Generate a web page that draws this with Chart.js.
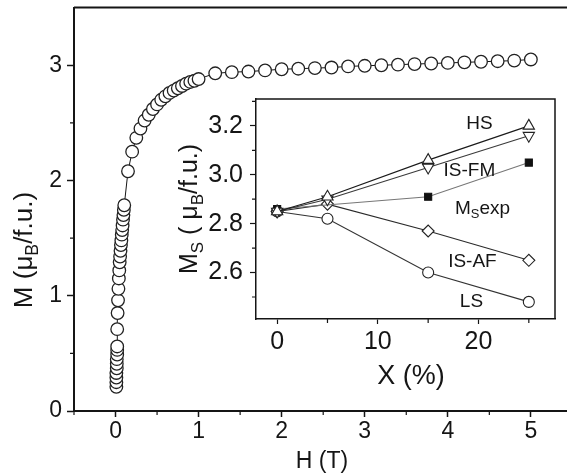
<!DOCTYPE html>
<html>
<head>
<meta charset="utf-8">
<script src="https://cdn.jsdelivr.net/npm/chart.js@4.4.0/dist/chart.umd.min.js"></script>
<style>
html, body { margin: 0; padding: 0; background: #fff; overflow: hidden; }
#wrap { position: relative; width: 567px; height: 476px; overflow: hidden; }
#mainChart { position: absolute; left: 0; top: 0; }
#insetChart { position: absolute; left: 160px; top: 90px; }
</style>
</head>
<body>
<div id="wrap">
  <canvas id="mainChart" width="580" height="476"></canvas>
  <canvas id="insetChart" width="405" height="310"></canvas>
</div>
<script>
// main curve, M(H)
const fieldT = [0.01, 0.01, 0.01, 0.01, 0.015, 0.015, 0.015, 0.02, 0.02, 0.02,
    0.02, 0.025, 0.03, 0.035, 0.04, 0.045, 0.05, 0.055, 0.06, 0.065, 0.07, 0.075, 0.08, 0.085, 0.09, 0.095, 0.10, 0.105,
    0.15, 0.20, 0.25, 0.30, 0.35, 0.40, 0.45, 0.50, 0.55, 0.60, 0.65, 0.70, 0.75, 0.80, 0.85, 0.90, 0.95, 1.00,
    1.2, 1.4, 1.6, 1.8, 2.0, 2.2, 2.4, 2.6, 2.8, 3.0, 3.2, 3.4, 3.6, 3.8, 4.0, 4.2, 4.4, 4.6, 4.8, 5.0];
const moment = [0.21, 0.25, 0.29, 0.33, 0.37, 0.41, 0.45, 0.49, 0.53, 0.56,
    0.71, 0.85, 0.96, 1.06, 1.15, 1.22, 1.29, 1.34, 1.39, 1.44, 1.48, 1.53, 1.57, 1.61, 1.66, 1.70, 1.745, 1.785,
    2.08, 2.25, 2.37, 2.45, 2.52, 2.57, 2.62, 2.66, 2.70, 2.73, 2.76, 2.78, 2.80, 2.82, 2.84, 2.855, 2.865, 2.88,
    2.93, 2.94, 2.945, 2.955, 2.965, 2.97, 2.975, 2.98, 2.99, 2.995, 3.0, 3.005, 3.01, 3.015, 3.02, 3.025, 3.03, 3.035, 3.04, 3.05];

// inset, Ms vs doping
const dopingX = [0, 5, 15, 25];
const msHS = [2.85, 2.91, 3.06, 3.20];
const msISFM = [2.85, 2.90, 3.03, 3.16];
const msISAF = [2.85, 2.88, 2.77, 2.65];
const msLS = [2.85, 2.82, 2.60, 2.48];
const expX = [0, 15, 25];
const msExp = [2.86, 2.91, 3.05];

const mainXTicks = [0, 1, 2, 3, 4, 5];
const mainYTicks = [0, 1, 2, 3];
const insetXTicks = [0, 10, 20];
const insetYTicks = [2.6, 2.8, 3.0, 3.2];

const INK = '#151515';
const FONT = '"Liberation Sans", Arial, sans-serif';
Chart.defaults.font.family = FONT;
Chart.defaults.color = INK;

const pts = (xs, ys) => xs.map((x, i) => ({ x: x, y: ys[i] }));

function drawRich(ctx, parts, x, y, size, rot) {
    ctx.save();
    ctx.translate(x, y);
    ctx.rotate(rot || 0);
    let w = 0;
    parts.forEach(p => {
        ctx.font = (p.sub ? size * 0.68 : size) + 'px ' + FONT;
        w += ctx.measureText(p.t).width;
    });
    let cx = -w / 2;
    ctx.textBaseline = 'middle';
    ctx.textAlign = 'left';
    ctx.fillStyle = INK;
    parts.forEach(p => {
        ctx.font = (p.sub ? size * 0.68 : size) + 'px ' + FONT;
        ctx.fillText(p.t, cx, p.sub ? size * 0.32 : 0);
        cx += ctx.measureText(p.t).width;
    });
    ctx.restore();
}

// frame lines, minor ticks, titles and curve names
const decor = {
    id: 'decor',
    afterDraw(chart, args, o) {
        const { ctx, chartArea: a, scales } = chart;
        ctx.save();
        ctx.strokeStyle = INK;
        ctx.lineWidth = o.lineWidth;
        ctx.beginPath();
        ctx.moveTo(a.left, a.top); ctx.lineTo(a.right, a.top);
        if (o.box) { ctx.lineTo(a.right, a.bottom); }
        ctx.stroke();

        ctx.lineWidth = 1.2;
        ctx.beginPath();
        o.minorX.forEach(v => {
            const px = scales.x.getPixelForValue(v);
            ctx.moveTo(px, a.bottom); ctx.lineTo(px, a.bottom + o.minorLen);
        });
        o.minorY.forEach(v => {
            const py = scales.y.getPixelForValue(v);
            ctx.moveTo(a.left - o.minorLen, py); ctx.lineTo(a.left, py);
        });
        ctx.stroke();
        ctx.restore();

        (o.titles || []).forEach(t => drawRich(ctx, t.parts, t.x, t.y, t.size, t.rot));
        (o.names || []).forEach(t => drawRich(ctx, t.parts,
            scales.x.getPixelForValue(t.vx), scales.y.getPixelForValue(t.vy), t.size, 0));
    }
};

function fixedTicks(list) {
    return scale => { scale.ticks = list.map(v => ({ value: v })); };
}
function fitX(h) {
    return s => { s.height = h; s.paddingLeft = 0; s.paddingRight = 0; };
}
function fitY(w) {
    return s => { s.width = w; s.paddingTop = 0; s.paddingBottom = 0; };
}

new Chart(document.getElementById('mainChart'), {
    type: 'scatter',
    data: {
        datasets: [{
            data: pts(fieldT, moment),
            showLine: true,
            borderColor: INK,
            borderWidth: 1,
            pointStyle: 'circle',
            pointRadius: 6.3,
            pointBorderWidth: 1.3,
            pointBorderColor: '#222',
            pointBackgroundColor: '#fff'
        }]
    },
    options: {
        responsive: false,
        animation: false,
        layout: { padding: { top: 7, right: 5, left: 0, bottom: 0 } },
        plugins: {
            legend: { display: false },
            tooltip: { enabled: false },
            decor: {
                lineWidth: 2,
                box: false,
                minorLen: 4,
                minorX: [-0.5, 0.5, 1.5, 2.5, 3.5, 4.5, 5.5],
                minorY: [0.5, 1.5, 2.5],
                titles: [
                    { parts: [{ t: 'H (T)' }], x: 322, y: 462, size: 23 },
                    { parts: [{ t: 'M (μ' }, { t: 'B', sub: true }, { t: '/f.u.)' }], x: 25, y: 250, size: 26, rot: -Math.PI / 2 }
                ]
            }
        },
        scales: {
            x: {
                type: 'linear', min: -0.5, max: 5.5,
                afterBuildTicks: fixedTicks(mainXTicks),
                afterFit: fitX(65),
                grid: { drawOnChartArea: false, tickLength: 6, tickWidth: 1.5, tickColor: INK },
                border: { color: INK, width: 2 },
                ticks: { font: { size: 23 }, padding: 1, maxRotation: 0, callback: v => String(v) }
            },
            y: {
                type: 'linear', min: 0, max: 3.5,
                afterBuildTicks: fixedTicks(mainYTicks),
                afterFit: fitY(74),
                grid: { drawOnChartArea: false, tickLength: 7, tickWidth: 1.5, tickColor: INK },
                border: { color: INK, width: 2 },
                ticks: { font: { size: 23 }, padding: 5, callback: v => String(v) }
            }
        }
    },
    plugins: [decor]
});

const openMark = { pointBackgroundColor: '#fff', pointBorderColor: '#222', pointBorderWidth: 1.1, borderWidth: 1.1, showLine: true };

new Chart(document.getElementById('insetChart'), {
    type: 'scatter',
    data: {
        datasets: [
            Object.assign({ label: 'HS', data: pts(dopingX, msHS), pointStyle: 'triangle', pointRadius: 6.5, borderColor: '#1a1a1a' }, openMark),
            Object.assign({ label: 'IS-FM', data: pts(dopingX, msISFM), pointStyle: 'triangle', pointRotation: 180, pointRadius: 6.5, borderColor: '#3a3a3a' }, openMark),
            {
                label: 'Ms exp', data: pts(expX, msExp), showLine: true,
                pointStyle: 'rect', pointRadius: 5, pointBackgroundColor: '#111', pointBorderColor: '#111',
                borderColor: '#777', borderWidth: 1.1
            },
            Object.assign({ label: 'IS-AF', data: pts(dopingX, msISAF), pointStyle: 'rectRot', pointRadius: 6, borderColor: '#2a2a2a' }, openMark),
            Object.assign({ label: 'LS', data: pts(dopingX, msLS), pointStyle: 'circle', pointRadius: 5.5, borderColor: '#333' }, openMark)
        ]
    },
    options: {
        responsive: false,
        animation: false,
        layout: { padding: { top: 9, right: 10, left: 0, bottom: 0 } },
        plugins: {
            legend: { display: false },
            tooltip: { enabled: false },
            decor: {
                lineWidth: 1.5,
                box: true,
                minorLen: 4,
                minorX: [5, 15, 25],
                minorY: [2.5, 2.7, 2.9, 3.1, 3.3],
                titles: [
                    { parts: [{ t: 'X (%)' }], x: 251, y: 287, size: 27 },
                    { parts: [{ t: 'M' }, { t: 'S', sub: true }, { t: ' ( μ' }, { t: 'B', sub: true }, { t: '/f.u.)' }], x: 30, y: 119, size: 25, rot: -Math.PI / 2 }
                ],
                names: [
                    { parts: [{ t: 'HS' }], vx: 20.1, vy: 3.21, size: 19 },
                    { parts: [{ t: 'IS-FM' }], vx: 19.1, vy: 3.017, size: 19 },
                    { parts: [{ t: 'M' }, { t: 'S', sub: true }, { t: 'exp' }], vx: 20.4, vy: 2.863, size: 19 },
                    { parts: [{ t: 'IS-AF' }], vx: 19.4, vy: 2.644, size: 19 },
                    { parts: [{ t: 'LS' }], vx: 19.3, vy: 2.48, size: 19 }
                ]
            }
        },
        scales: {
            x: {
                type: 'linear', min: -2.1, max: 27.6,
                afterBuildTicks: fixedTicks(insetXTicks),
                afterFit: fitX(81),
                grid: { drawOnChartArea: false, tickLength: 5, tickWidth: 1.2, tickColor: INK },
                border: { color: INK, width: 1.5 },
                ticks: { font: { size: 25 }, padding: 3, maxRotation: 0, callback: v => String(v) }
            },
            y: {
                type: 'linear', min: 2.41, max: 3.31,
                afterBuildTicks: fixedTicks(insetYTicks),
                afterFit: fitY(96),
                grid: { drawOnChartArea: false, tickLength: 6, tickWidth: 1.2, tickColor: INK },
                border: { color: INK, width: 1.5 },
                ticks: { font: { size: 25 }, padding: 7, callback: v => v.toFixed(1) }
            }
        }
    },
    plugins: [decor]
});
</script>
</body>
</html>
